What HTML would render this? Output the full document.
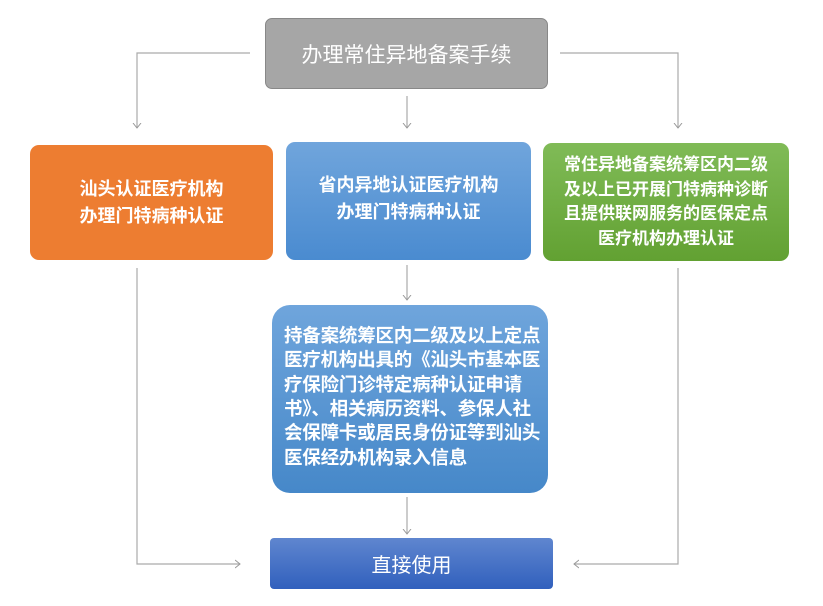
<!DOCTYPE html>
<html><head><meta charset="utf-8"><style>
body{margin:0;width:823px;height:606px;background:#fff;position:relative;overflow:hidden;font-family:"Liberation Sans","Noto Sans CJK SC",sans-serif;}
.b{position:absolute;box-sizing:border-box;color:#fff;display:flex;align-items:center;justify-content:center;text-align:center;white-space:nowrap;}
svg{position:absolute;left:0;top:0}
</style></head><body>
<svg width="823" height="606">
<defs><marker id="a" markerWidth="10" markerHeight="10" refX="5" refY="5" orient="auto" markerUnits="userSpaceOnUse"><path d="M0,1 L5,5 L0,9" fill="none" stroke="#999" stroke-width="1"/></marker></defs>
<g stroke="#aaa" stroke-width="1.2" fill="none">
<path d="M250,53 H137 V128" marker-end="url(#a)"/>
<path d="M407,96 V128" marker-end="url(#a)"/>
<path d="M560,53 H678 V128" marker-end="url(#a)"/>
<path d="M137,268 V564 H240" marker-end="url(#a)"/>
<path d="M678,268 V564 H574" marker-end="url(#a)"/>
<path d="M407,265 V300" marker-end="url(#a)"/>
<path d="M407,497 V534" marker-end="url(#a)"/>
</g></svg>
<div class="b" style="left:265px;top:18px;width:283px;height:71px;background:#a6a6a6;border:1px solid #888;border-radius:7px;font-size:21px;">办理常住异地备案手续</div>
<div class="b" style="left:30px;top:145px;width:243px;height:115px;background:#ed7d31;border-radius:9px;font-size:18px;line-height:27px;font-weight:bold;">汕头认证医疗机构<br>办理门特病种认证</div>
<div class="b" style="left:286px;top:142px;width:245px;height:118px;background:linear-gradient(#70a5dc,#4a8bd0);border-radius:9px;font-size:18px;line-height:27px;font-weight:bold;padding-bottom:4px;">省内异地认证医疗机构<br>办理门特病种认证</div>
<div class="b" style="left:543px;top:143px;width:246px;height:118px;background:linear-gradient(#80bb57,#62a132);border-radius:9px;font-size:17px;line-height:24.5px;font-weight:bold;">常住异地备案统筹区内二级<br>及以上已开展门特病种诊断<br>且提供联网服务的医保定点<br>医疗机构办理认证</div>
<div class="b" style="left:272px;top:305px;width:276px;height:188px;background:linear-gradient(#6fa5dc,#4688c9);border-radius:18px;font-size:18.5px;line-height:24.3px;font-weight:bold;text-align:left;justify-content:flex-start;padding:0 0 4px 12px;letter-spacing:-0.2px;">持备案统筹区内二级及以上定点<br>医疗机构出具的《汕头市基本医<br>疗保险门诊特定病种认证申请<br>书》、相关病历资料、参保人社<br>会保障卡或居民身份证等到汕头<br>医保经办机构录入信息</div>
<div class="b" style="left:270px;top:538px;width:283px;height:51px;background:linear-gradient(#5f86cf,#3160bd);border-radius:4px;font-size:20px;">直接使用</div>
</body></html>
